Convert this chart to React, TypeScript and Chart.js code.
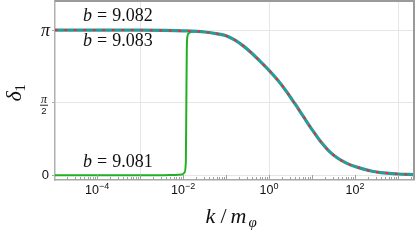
import { useEffect, useRef } from "react";
import { Chart, registerables } from "chart.js";
Chart.register(...registerables);

// ---- data ----
const kValues = [1.05e-5, 1e-4, 1e-3, 3.16e-3, 0.01, 0.0316, 0.0631, 0.1, 0.158, 0.251, 0.398, 0.631, 1, 1.585, 2.512, 3.981, 6.31, 10, 15.85, 25.12, 39.81, 63.1, 100, 158.5, 251.2, 398.1, 631, 1000, 2350];
const delta9082 = [3.1416, 3.1414, 3.14, 3.135, 3.125, 3.1, 3.06, 3.02, 2.93, 2.8, 2.64, 2.46, 2.27, 2.06, 1.82, 1.55, 1.27, 0.99, 0.73, 0.52, 0.37, 0.265, 0.19, 0.135, 0.09, 0.06, 0.045, 0.03, 0.016];
const delta9083 = [3.1416, 3.1414, 3.14, 3.135, 3.125, 3.1, 3.06, 3.02, 2.93, 2.8, 2.64, 2.46, 2.27, 2.06, 1.82, 1.55, 1.27, 0.99, 0.73, 0.52, 0.37, 0.265, 0.19, 0.135, 0.09, 0.06, 0.045, 0.03, 0.016];
const kValues9081 = [1.05e-5, 1e-4, 1e-3, 5e-3, 0.0095, 0.0108, 0.0116, 0.0119, 0.0122, 0.0126, 0.0135, 0.015, 0.02, 0.0316, 0.0631, 0.1, 0.158, 0.251, 0.398, 0.631, 1, 1.585, 2.512, 3.981, 6.31, 10, 15.85, 25.12, 39.81, 63.1, 100, 158.5, 251.2, 398.1, 631, 1000, 2350];
const delta9081 = [0, 0.0005, 0.002, 0.006, 0.02, 0.06, 0.3, 1.5, 2.7, 3.0, 3.07, 3.1, 3.115, 3.1, 3.06, 3.02, 2.93, 2.8, 2.64, 2.46, 2.27, 2.06, 1.82, 1.55, 1.27, 0.99, 0.73, 0.52, 0.37, 0.265, 0.19, 0.135, 0.09, 0.06, 0.045, 0.03, 0.016];

const xMin = 1.05e-5;
const xMax = 2350;
const yMin = -0.1;
const yMax = 3.77;

const xLabelExponents = [-4, -2, 0, 2];
const xGridValues = [1e-3, 1, 1e3];
const yTickValues = [0, Math.PI / 2, Math.PI];

const annotationTexts = ["9.082", "9.083", "9.081"];
const annotationK = [4.72e-5, 4.72e-5, 4.72e-5];
const annotationDelta = [3.33, 2.8, 0.18];

const SERIF = '"Liberation Serif", "Times New Roman", serif';
const SANS = '"Liberation Sans", Arial, sans-serif';

const decor = {
  id: "decor",
  afterDraw(chart: any) {
    const { ctx, chartArea: a } = chart;
    const xs = chart.scales.x;
    const ys = chart.scales.y;
    ctx.save();

    // frame top/right
    ctx.strokeStyle = "#9a9a9a";
    ctx.lineWidth = 2;
    ctx.beginPath();
    ctx.moveTo(a.left, a.top);
    ctx.lineTo(a.right, a.top);
    ctx.lineTo(a.right, a.bottom);
    ctx.stroke();

    // inward log ticks on bottom axis
    ctx.strokeStyle = "#a0a0a0";
    ctx.lineWidth = 1;
    for (let d = -6; d <= 4; d++) {
      for (let m = 1; m <= 9; m++) {
        const v = m * Math.pow(10, d);
        if (v < xMin || v > xMax) continue;
        const px = Math.round(xs.getPixelForValue(v)) + 0.5;
        const len = m === 1 ? 5 : 3;
        ctx.beginPath();
        ctx.moveTo(px, a.bottom);
        ctx.lineTo(px, a.bottom - len);
        ctx.stroke();
      }
    }

    // x tick labels 10^n
    ctx.fillStyle = "#111";
    ctx.textBaseline = "alphabetic";
    ctx.textAlign = "left";
    for (const e of xLabelExponents) {
      const px = xs.getPixelForValue(Math.pow(10, e));
      ctx.font = `12.5px ${SANS}`;
      const w1 = ctx.measureText("10").width;
      const exp = e < 0 ? "\u2212" + Math.abs(e) : String(e);
      ctx.font = `9px ${SANS}`;
      const w2 = ctx.measureText(exp).width;
      const x0 = px - (w1 + w2) / 2;
      ctx.font = `12.5px ${SANS}`;
      ctx.fillText("10", x0, a.bottom + 14);
      ctx.font = `9px ${SANS}`;
      ctx.fillText(exp, x0 + w1, a.bottom + 8.5);
    }

    // y tick labels
    const p0 = ys.getPixelForValue(0);
    const pHalf = ys.getPixelForValue(Math.PI / 2);
    const pPi = ys.getPixelForValue(Math.PI);
    ctx.textAlign = "right";
    ctx.textBaseline = "middle";
    ctx.font = `13px ${SANS}`;
    ctx.fillText("0", a.left - 6, p0 + 0.5);
    ctx.font = `italic 18px ${SERIF}`;
    ctx.fillText("\u03c0", a.left - 5, pPi + 1);
    // pi/2 fraction
    ctx.textAlign = "center";
    ctx.textBaseline = "alphabetic";
    const cx = a.left - 11;
    ctx.font = `italic 12px ${SERIF}`;
    ctx.fillText("\u03c0", cx, pHalf + 0.5);
    ctx.strokeStyle = "#111";
    ctx.lineWidth = 0.9;
    ctx.beginPath();
    ctx.moveTo(cx - 4, pHalf + 2.5);
    ctx.lineTo(cx + 4, pHalf + 2.5);
    ctx.stroke();
    ctx.font = `9.5px ${SANS}`;
    ctx.fillText("2", cx, pHalf + 11);

    // y title δ1 (rotated)
    ctx.save();
    ctx.translate(21, 93);
    ctx.rotate(-Math.PI / 2);
    ctx.textAlign = "left";
    ctx.font = `italic 22px ${SERIF}`;
    const wd = ctx.measureText("\u03b4").width;
    const startX = -(wd + 7) / 2;
    ctx.fillText("\u03b4", startX, 0);
    ctx.font = `15px ${SERIF}`;
    ctx.fillText("1", startX + wd, 4);
    ctx.restore();

    // x title k/m_phi
    const tx = (a.left + a.right) / 2 - 29;
    const ty = a.bottom + 43;
    ctx.textAlign = "left";
    ctx.font = `italic 22px ${SERIF}`;
    ctx.fillText("k", tx, ty);
    ctx.font = `22px ${SERIF}`;
    ctx.fillText("/", tx + 15, ty);
    ctx.font = `italic 22px ${SERIF}`;
    ctx.fillText("m", tx + 25, ty);
    ctx.font = `italic 15px ${SERIF}`;
    ctx.fillText("\u03c6", tx + 43, ty + 4);

    // annotations
    for (let i = 0; i < annotationTexts.length; i++) {
      const px = xs.getPixelForValue(annotationK[i]);
      const py = ys.getPixelForValue(annotationDelta[i]);
      ctx.font = `italic 18px ${SERIF}`;
      ctx.fillText("b", px, py);
      const wb = ctx.measureText("b").width;
      ctx.font = `18px ${SERIF}`;
      ctx.fillText("=", px + wb + 5, py);
      const we = ctx.measureText("=").width;
      ctx.fillText(annotationTexts[i], px + wb + we + 10, py);
    }
    ctx.restore();
  },
};

export default function App() {
  const ref = useRef<HTMLCanvasElement>(null);
  useEffect(() => {
    const toPts = (ks: number[], ds: number[]) => ks.map((k, i) => ({ x: k, y: ds[i] }));
    const chart = new Chart(ref.current!, {
      type: "line",
      data: {
        datasets: [
          {
            label: "b = 9.083",
            data: toPts(kValues, delta9083),
            borderColor: "#ff2424",
            borderWidth: 2,
            borderDash: [2.5, 7],
            pointRadius: 0,
            cubicInterpolationMode: "monotone",
            order: 1,
          },
          {
            label: "b = 9.082",
            data: toPts(kValues, delta9082),
            borderColor: "#2a9a9a",
            borderWidth: 3.2,
            pointRadius: 0,
            cubicInterpolationMode: "monotone",
            order: 2,
          },
          {
            label: "b = 9.081",
            data: toPts(kValues9081, delta9081),
            borderColor: "#22b022",
            borderWidth: 2,
            pointRadius: 0,
            cubicInterpolationMode: "monotone",
            order: 3,
          },
        ],
      },
      options: {
        animation: false,
        responsive: true,
        maintainAspectRatio: false,
        layout: { padding: { top: 1, right: 3, left: 0, bottom: 0 } },
        plugins: { legend: { display: false }, tooltip: { enabled: false } },
        scales: {
          x: {
            type: "logarithmic",
            min: xMin,
            max: xMax,
            afterBuildTicks: (s: any) => {
              s.ticks = xGridValues.map((v) => ({ value: v }));
            },
            afterFit: (s: any) => {
              s.height = 62;
            },
            ticks: { display: false },
            grid: { color: "#e6e6e6", drawTicks: false, lineWidth: 1 },
            border: { color: "#a8a8a8", width: 1.5 },
          },
          y: {
            type: "linear",
            min: yMin,
            max: yMax,
            afterBuildTicks: (s: any) => {
              s.ticks = yTickValues.map((v) => ({ value: v }));
            },
            afterFit: (s: any) => {
              s.width = 55;
            },
            ticks: { display: false },
            grid: { color: "#e6e6e6", drawTicks: true, tickLength: 3, tickColor: "#a8a8a8" },
            border: { color: "#b0b0b0", width: 1.5 },
          },
        },
      },
      plugins: [decor],
    } as any);
    return () => chart.destroy();
  }, []);
  return (
    <div style={{ position: "fixed", left: 0, top: 0, width: 417, height: 242, background: "#fff" }}>
      <canvas ref={ref} />
    </div>
  );
}
